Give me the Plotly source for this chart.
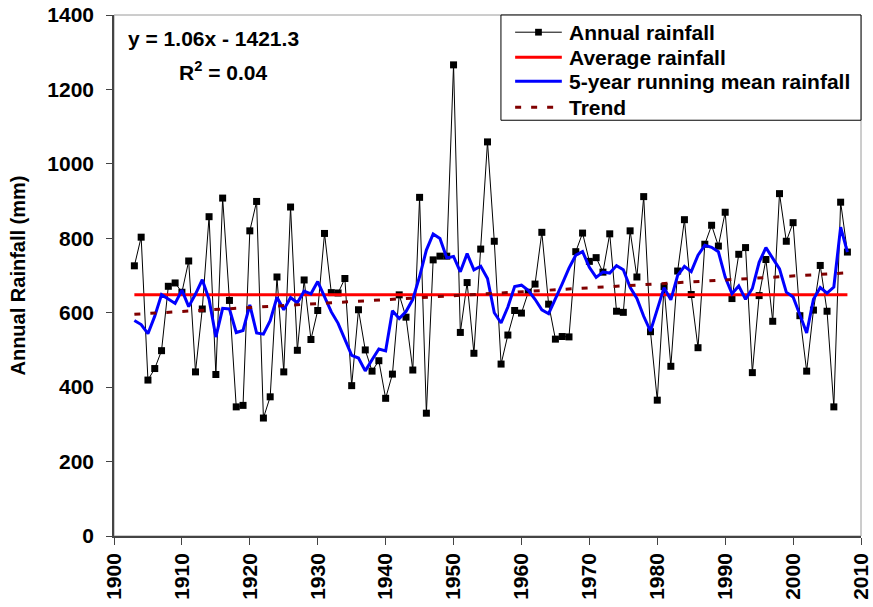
import numpy as np
import plotly.graph_objects as go

# Annual rainfall record, 1903-2008 (mm)
years = list(range(1903, 2009))
annual_rainfall = [
    726, 803, 419, 450, 498, 671, 680, 655, 739, 441,
    610, 858, 434, 908, 633, 347, 351, 820, 899, 317,
    374, 696, 441, 884, 499, 688, 528, 606, 813, 654,
    653, 692, 404, 608, 500, 443, 471, 370, 435, 648,
    588, 446, 910, 330, 742, 752, 752, 1266, 547, 681,
    491, 771, 1059, 792, 462, 540, 606, 599, 655, 677,
    816, 623, 529, 536, 535, 764, 814, 738, 748, 709,
    812, 604, 601, 820, 696, 912, 549, 365, 670, 456,
    712, 850, 649, 506, 784, 835, 779, 870, 638, 757,
    775, 439, 646, 743, 577, 920, 792, 842, 592, 443,
    607, 727, 604, 347, 897, 763,
]

# Linear trend as stated on the chart: y = 1.06x - 1421.3
trend_slope = 1.06
trend_intercept = -1421.3
r_squared = 0.04

x_ticks = list(range(1900, 2011, 10))
y_ticks = list(range(0, 1401, 200))

series_names = ["Annual rainfall", "Average rainfall",
                "5-year running mean rainfall", "Trend"]

vals = np.array(annual_rainfall, dtype=float)
yrs = np.array(years)

average = float(vals.mean())
# 5-year running mean, window running forward from each year
running_mean = [float(vals[i:i + 5].mean()) for i in range(len(vals))]
trend = trend_slope * yrs + trend_intercept

FONT = "Arial, Liberation Sans, sans-serif"
BLACK, RED, BLUE, MAROON = "black", "#ff0000", "#0000ff", "#800000"
TREND_DASH = "6px,10px"

fig = go.Figure()
fig.add_trace(go.Scatter(
    x=years, y=annual_rainfall, name=series_names[0],
    mode="lines+markers",
    line=dict(color=BLACK, width=1),
    marker=dict(symbol="square", size=7, color=BLACK),
))
fig.add_trace(go.Scatter(
    x=[years[0], years[-1]], y=[average, average], name=series_names[1],
    mode="lines", line=dict(color=RED, width=3),
))
fig.add_trace(go.Scatter(
    x=years, y=running_mean, name=series_names[2],
    mode="lines", line=dict(color=BLUE, width=3),
))
fig.add_trace(go.Scatter(
    x=years, y=trend, name=series_names[3],
    mode="lines", line=dict(color=MAROON, width=3, dash=TREND_DASH),
))

# Boxed key in the top-right corner of the plot area (paper coordinates)
key_x0, key_x1, key_y0 = 0.518, 1.0, 0.798
row_y = [0.967, 0.919, 0.873, 0.823]
sym_x0, sym_x1, txt_x = 0.537, 0.5995, 0.606

shapes = [
    dict(type="rect", xref="paper", yref="paper", x0=0, y0=0, x1=1, y1=1,
         line=dict(color="#9a9a9a", width=1), layer="below"),
    dict(type="rect", xref="paper", yref="paper",
         x0=key_x0, x1=key_x1, y0=key_y0, y1=1.0,
         line=dict(color=BLACK, width=1), fillcolor="white", layer="above"),
]
key_styles = [
    dict(color=BLACK, width=1),
    dict(color=RED, width=3),
    dict(color=BLUE, width=3),
    dict(color=MAROON, width=3, dash=TREND_DASH),
]
annotations = []
for name, ry, style in zip(series_names, row_y, key_styles):
    shapes.append(dict(type="line", xref="paper", yref="paper",
                       x0=sym_x0, x1=sym_x1, y0=ry, y1=ry,
                       line=style, layer="above"))
    annotations.append(dict(
        text=f"<b>{name}</b>", xref="paper", yref="paper",
        x=txt_x, y=ry, xanchor="left", yanchor="middle", showarrow=False,
        font=dict(size=21, family=FONT, color=BLACK)))
# square marker on the first key entry
mx = (sym_x0 + sym_x1) / 2
shapes.append(dict(type="rect", xref="paper", yref="paper",
                   x0=mx - 0.0045, x1=mx + 0.0045,
                   y0=row_y[0] - 0.0065, y1=row_y[0] + 0.0065,
                   line=dict(width=0), fillcolor=BLACK, layer="above"))

annotations += [
    dict(text="<b>y = 1.06x - 1421.3</b>", xref="paper", yref="paper",
         x=0.016, y=0.954, xanchor="left", yanchor="middle",
         showarrow=False, font=dict(size=21, family=FONT, color=BLACK)),
    dict(text=f"<b>R<sup>2</sup> = {r_squared:.2f}</b>", xref="paper", yref="paper",
         x=0.146, y=0.892, xanchor="center", yanchor="middle",
         showarrow=False, font=dict(size=21, family=FONT, color=BLACK)),
]

fig.update_layout(
    width=873, height=607,
    margin=dict(l=114, r=12, t=15, b=71),
    paper_bgcolor="white", plot_bgcolor="white",
    font=dict(family=FONT, color=BLACK),
    showlegend=False,
    annotations=annotations,
    shapes=shapes,
)

fig.update_xaxes(
    range=[1900, 2010], tickvals=x_ticks,
    ticktext=[f"<b>{t}</b>" for t in x_ticks],
    tickangle=-90, ticks="outside", ticklen=7, tickcolor="#444",
    showline=True, linecolor="#444", linewidth=1.5,
    showgrid=False, zeroline=False, automargin=False,
    tickfont=dict(size=21, family=FONT, color=BLACK),
    ticklabelstandoff=0,
)
fig.update_yaxes(
    range=[0, 1400], tickvals=y_ticks,
    ticktext=[f"<b>{t}</b>" for t in y_ticks],
    ticks="outside", ticklen=6, tickcolor="#444",
    showline=True, linecolor="#444", linewidth=1.5,
    showgrid=False, zeroline=False, automargin=False,
    tickfont=dict(size=21, family=FONT, color=BLACK),
    ticklabelstandoff=8,
    title=dict(text="<b>Annual Rainfall (mm)</b>", standoff=16,
               font=dict(size=20, family=FONT, color=BLACK)),
)

fig.write_html("out.html")
